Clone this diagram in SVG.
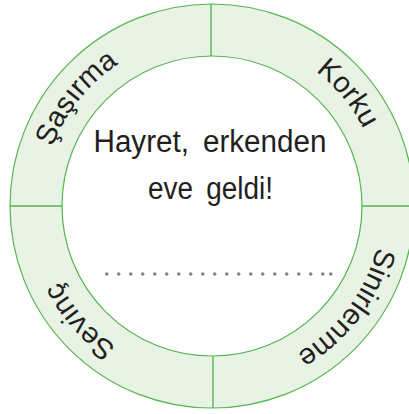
<svg xmlns="http://www.w3.org/2000/svg" width="409" height="414" viewBox="0 0 409 414">
<style>
.ring{fill:#e9f3e5;stroke:#55b54f;stroke-width:1.2}
.inner{fill:#ffffff;stroke:#55b54f;stroke-width:1.2}
.div{stroke:#55b54f;stroke-width:1.4;fill:none}
.lbl{font-family:"Liberation Sans","DejaVu Sans",sans-serif;font-size:29px;fill:#231f20}
.main{font-family:"Liberation Sans","DejaVu Sans",sans-serif;font-size:31px;fill:#231f20;text-anchor:middle}
.dot{fill:#808285}
</style>
<defs>
<path id="arc" d="M382,206 A170,170 0 1 1 42,206 A170,170 0 1 1 382,206"/>
</defs>
<rect width="409" height="414" fill="#ffffff"/>
<g id="ring">
<circle class="ring" cx="212" cy="206" r="202"/>
<circle class="inner" cx="212" cy="206" r="150"/>
</g>
<g id="connectors">
<line class="div" x1="211" y1="4" x2="211" y2="56"/>
<line class="div" x1="213" y1="356" x2="213" y2="408"/>
<line class="div" x1="10" y1="206" x2="62" y2="206"/>
<line class="div" x1="362" y1="206" x2="409" y2="206"/>
</g>
<g id="sasirma"><text class="lbl" text-anchor="middle"><textPath href="#arc" startOffset="648">Şaşırma</textPath></text></g>
<g id="korku"><text class="lbl" text-anchor="middle"><textPath href="#arc" startOffset="950">Korku</textPath></text></g>
<g id="sinirlenme"><text class="lbl" text-anchor="middle"><textPath href="#arc" startOffset="110">Sinirlenme</textPath></text></g>
<g id="sevinc"><text class="lbl" text-anchor="middle"><textPath href="#arc" startOffset="412">Sevinç</textPath></text></g>
<g id="center">
<text class="main" x="210" y="152" textLength="233" lengthAdjust="spacingAndGlyphs" word-spacing="6">Hayret, erkenden</text>
<text class="main" x="210.5" y="199" textLength="125" lengthAdjust="spacingAndGlyphs" word-spacing="6">eve geldi!</text>
<g id="dots">
<circle class="dot" cx="106.7" cy="274" r="1.8"/><circle class="dot" cx="118.7" cy="274" r="1.8"/><circle class="dot" cx="130.7" cy="274" r="1.8"/><circle class="dot" cx="142.7" cy="274" r="1.8"/><circle class="dot" cx="154.7" cy="274" r="1.8"/><circle class="dot" cx="166.7" cy="274" r="1.8"/><circle class="dot" cx="178.7" cy="274" r="1.8"/><circle class="dot" cx="190.7" cy="274" r="1.8"/><circle class="dot" cx="202.7" cy="274" r="1.8"/><circle class="dot" cx="214.7" cy="274" r="1.8"/><circle class="dot" cx="226.7" cy="274" r="1.8"/><circle class="dot" cx="238.7" cy="274" r="1.8"/><circle class="dot" cx="250.7" cy="274" r="1.8"/><circle class="dot" cx="262.7" cy="274" r="1.8"/><circle class="dot" cx="274.7" cy="274" r="1.8"/><circle class="dot" cx="286.7" cy="274" r="1.8"/><circle class="dot" cx="298.7" cy="274" r="1.8"/><circle class="dot" cx="310.7" cy="274" r="1.8"/><circle class="dot" cx="322.7" cy="274" r="1.8"/><circle class="dot" cx="330.7" cy="274" r="1.8"/>
</g>
</g>
</svg>
